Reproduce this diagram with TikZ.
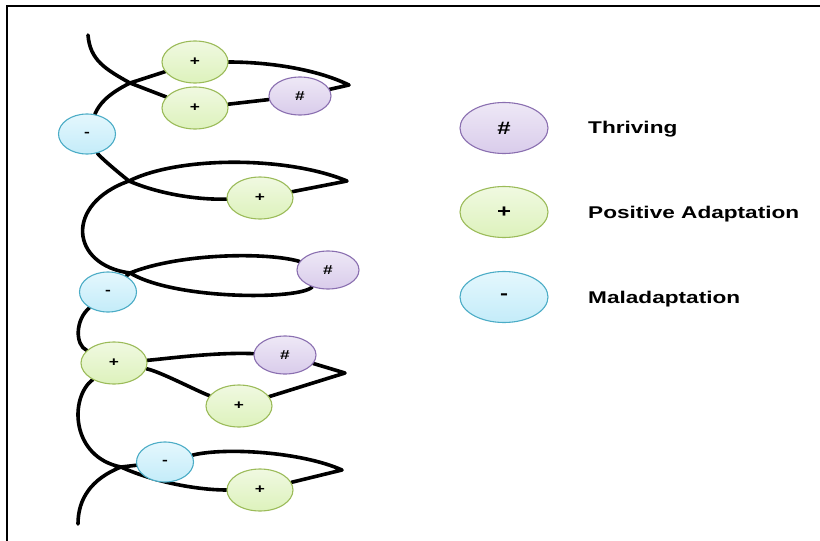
\documentclass[tikz,border=0pt]{standalone}
\usepackage{fontspec}
\newfontfamily\keyfont[FakeStretch=1.33]{Liberation Sans}
\usetikzlibrary{shapes.geometric,backgrounds}
\definecolor{plusline}{HTML}{9BBB59}
\definecolor{plustop}{HTML}{F0F9E1}
\definecolor{plusbot}{HTML}{DDF2BC}
\definecolor{thrline}{HTML}{8A6FB0}
\definecolor{thrtop}{HTML}{EEE8F6}
\definecolor{thrbot}{HTML}{D9CCEB}
\definecolor{malline}{HTML}{4BACC6}
\definecolor{maltop}{HTML}{E4F7FD}
\definecolor{malbot}{HTML}{C4ECF9}
\begin{document}
\begin{tikzpicture}[x=1pt, y=-1pt,
  helix/.style={line width=3.6pt, line cap=round, line join=round},
  blob/.style={ellipse, inner sep=0pt, line width=1.1pt, font=\keyfont\bfseries\fontsize{13}{14}\selectfont},
  plus/.style={blob, draw=plusline, top color=plustop, bottom color=plusbot, minimum width=66pt, minimum height=42pt},
  thr/.style={blob, draw=thrline, top color=thrtop, bottom color=thrbot, minimum width=62pt, minimum height=38pt},
  mal/.style={blob, draw=malline, top color=maltop, bottom color=malbot, minimum width=57pt, minimum height=40pt},
  key/.style={minimum width=88pt, minimum height=51pt, font=\keyfont\bfseries\fontsize{18}{20}\selectfont},
  keytext/.style={anchor=west, inner sep=0pt, text height=12.4pt, text depth=0pt, font=\keyfont\bfseries\fontsize{17}{20}\selectfont}]
\useasboundingbox (0,0) rectangle (820,541);
\draw [line width=2pt] (7,541) -- (7,6) -- (820,6);
% points on the spiral
\coordinate (top) at (88, 35);
\coordinate (cA) at (130, 83);
\coordinate (tip1) at (349, 85);
\coordinate (cB) at (129, 181);
\coordinate (tip2) at (347, 181);
\coordinate (cC) at (130, 273);
\coordinate (tip4) at (345, 373);
\coordinate (cD) at (121, 467);
\coordinate (tip5) at (342, 470);
\coordinate (bottom) at (78, 524);
% stages on the spiral
\node (p0) at (195, 62) [plus] {+};
\node (p1) at (195, 108) [plus] {+};
\node (t1) at (300, 96) [thr] {\#};
\node (m1) at (87, 134) [mal] {-};
\node (p2) at (260, 198) [plus] {+};
\node (t2) at (328, 270) [thr] {\#};
\node (m2) at (108, 292) [mal] {-};
\node (p3) at (114, 363) [plus] {+};
\node (t3) at (285, 355) [thr] {\#};
\node (p4) at (239, 406) [plus] {+};
\node (m3) at (165, 462) [mal] {-};
\node (p5) at (260, 490) [plus] {+};
% key
\node (kthr) at (504, 128) [thr, key] {\#};
\node (kplus) at (504, 212) [plus, key] {+};
\node (kmal) at (504, 297) [mal, key] {-};
\node (kthrtext) at (588, 127) [keytext] {Thriving};
\node (kplustext) at (588, 212) [keytext] {Positive Adaptation};
\node (kmaltext) at (588, 297) [keytext] {Maladaptation};
\begin{pgfonlayer}{background}
\draw [helix] (top) .. controls +(2,25) and +(-25,-14) .. (cA) -- (p1) -- (t1) -- (tip1)
  .. controls +(-35,-17) and +(70,0) .. (p0) -- (cA) .. controls +(-22,11) and +(12,-30) .. (m1)
  .. controls +(12,22) and +(-15,-12) .. (cB) .. controls +(30,13) and +(-62,2) .. (p2) -- (tip2)
  .. controls +(-60,-25) and +(50,-25) .. (cB) .. controls +(-65,23) and +(-60,-8) .. (cC)
  .. controls +(45,27) and +(-28,30) .. (t2) .. controls +(-60,-18) and +(50,-20) .. (cC) -- (m2)
  .. controls +(-33,28) and +(-39,-18) .. (p3) .. controls +(50,-4) and +(-70,-3) .. (t3) -- (tip4) -- (p4)
  .. controls +(-40,-14) and +(45,8) .. (p3) .. controls +(-45,35) and +(-50,-10) .. (cD)
  .. controls +(35,16) and +(-60,0) .. (p5) -- (tip5) .. controls +(-40,-18) and +(60,-15) .. (m3)
  -- (cD) .. controls +(-30,12) and +(0,-25) .. (bottom);
\end{pgfonlayer}
\end{tikzpicture}
\end{document}
